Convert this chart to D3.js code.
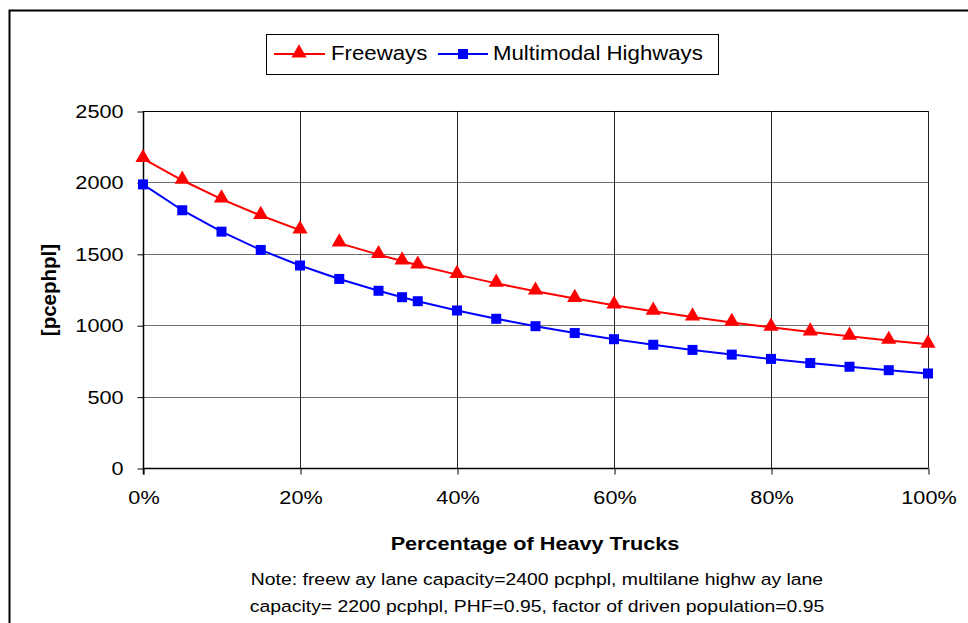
<!DOCTYPE html>
<html>
<head>
<meta charset="utf-8">
<script src="https://cdn.jsdelivr.net/npm/d3@7"></script>
<style>
  html, body { margin: 0; padding: 0; background: #fff; }
  svg { display: block; font-family: "Liberation Sans", Arial, sans-serif; }
</style>
</head>
<body>
<svg id="chart" width="968" height="623"></svg>
<script>
// ---- data ----
const truckPct = [0, 5, 10, 15, 20, 25, 30, 33, 35, 40, 45, 50, 55, 60, 65, 70, 75, 80, 85, 90, 95, 100];
const freeways = [2166, 2015, 1883, 1768, 1666, 1575, 1494, 1449, 1420, 1354, 1293, 1238, 1187, 1140, 1097, 1057, 1019, 985, 952, 922, 893, 866];
const multimodal = [1986, 1805, 1655, 1527, 1418, 1324, 1241, 1196, 1168, 1103, 1045, 993, 945, 902, 863, 827, 794, 764, 735, 709, 685, 662];
const freewayBreakAfter = 20; // line segment missing between 20% and 25%
const xTicks = [0, 20, 40, 60, 80, 100];
const yTicks = [0, 500, 1000, 1500, 2000, 2500];
const seriesNames = ["Freeways", "Multimodal Highways"];
const xTitle = "Percentage of Heavy Trucks";
const yTitle = "[pcephpl]";
const noteLines = [
  "Note: freew ay lane capacity=2400 pcphpl, multilane highw ay lane",
  "capacity= 2200 pcphpl, PHF=0.95, factor of driven population=0.95"
];

(function () {
const SX = 1.14; // horizontal stretch of glyphs as in the reference
const svg = d3.select("#chart");
const pL = 143, pR = 928, pT = 111, pB = 468;
const x = d3.scaleLinear().domain([0, 100]).range([pL, pR]);
const y = d3.scaleLinear().domain([0, 2500]).range([pB, pT]);

function stext(px, py, str, size, anchor, bold) {
  return svg.append("text")
    .attr("transform", `translate(${px},${py}) scale(${SX},1)`)
    .attr("text-anchor", anchor || "start")
    .attr("font-size", size)
    .attr("font-weight", bold ? "bold" : "normal")
    .attr("fill", "#000")
    .text(str);
}

// outer frame
svg.append("path").attr("d", "M9.5,640 L9.5,10.5 L980,10.5")
  .attr("fill", "none").attr("stroke", "#000").attr("stroke-width", 2);

// horizontal gridlines
svg.append("g").selectAll("line").data(yTicks.filter(d => d > 0)).join("line")
  .attr("x1", pL).attr("x2", pR)
  .attr("y1", d => Math.round(y(d)) + 0.5).attr("y2", d => Math.round(y(d)) + 0.5)
  .attr("stroke", d => d === 2500 ? "#000" : "#6e6e6e").attr("stroke-width", 1);
// vertical gridlines
svg.append("g").selectAll("line").data(xTicks.filter(d => d > 0)).join("line")
  .attr("y1", pT).attr("y2", pB)
  .attr("x1", d => Math.round(x(d)) + 0.5).attr("x2", d => Math.round(x(d)) + 0.5)
  .attr("stroke", "#222").attr("stroke-width", 1);

// axes
const yAxis = d3.axisLeft(y).tickValues(yTicks).tickSize(6).tickPadding(14).tickFormat(d3.format("d"));
const gy = svg.append("g").attr("transform", `translate(${pL + 0.5},0.5)`).call(yAxis);
gy.select(".domain").attr("stroke", "#000").attr("stroke-width", 1.5).attr("d", `M0,${pT - 0.5}V${pB + 6}`);
gy.selectAll(".tick line").attr("stroke", "#000");
gy.selectAll("text").attr("font-size", 19).attr("fill", "#000")
  .attr("font-family", "Liberation Sans, Arial, sans-serif")
  .attr("x", -20 / SX).attr("transform", `scale(${SX},1)`);

const xAxis = d3.axisBottom(x).tickValues(xTicks).tickSize(6).tickPadding(16).tickFormat(d => d + "%");
const gx = svg.append("g").attr("transform", `translate(0.5,${pB + 0.5})`).call(xAxis);
gx.select(".domain").attr("stroke", "#000").attr("stroke-width", 1.5).attr("d", `M${pL},0H${pR}`);
gx.selectAll(".tick line").attr("stroke", "#000");
gx.selectAll("text").attr("font-size", 19).attr("fill", "#000")
  .attr("font-family", "Liberation Sans, Arial, sans-serif")
  .attr("transform", `scale(${SX},1)`);

// series lines
const line = d3.line().x(d => x(d[0])).y(d => y(d[1]));
const fwData = truckPct.map((p, i) => [p, freeways[i]]);
const mmData = truckPct.map((p, i) => [p, multimodal[i]]);
const fwSeg1 = fwData.filter(d => d[0] <= freewayBreakAfter);
const fwSeg2 = fwData.filter(d => d[0] > freewayBreakAfter);

svg.append("path").datum(mmData).attr("d", line)
  .attr("fill", "none").attr("stroke", "#0000ff").attr("stroke-width", 2);
[fwSeg1, fwSeg2].forEach(seg => {
  svg.append("path").datum(seg).attr("d", line)
    .attr("fill", "none").attr("stroke", "#ff0000").attr("stroke-width", 2);
});

// markers
const tri = d3.symbol().type(d3.symbolTriangle).size(100);
svg.append("g").selectAll("path").data(fwData).join("path")
  .attr("d", tri)
  .attr("transform", d => `translate(${x(d[0])},${y(d[1]) - 1})`)
  .attr("fill", "#ff0000");
svg.append("g").selectAll("rect").data(mmData).join("rect")
  .attr("x", d => x(d[0]) - 5).attr("y", d => y(d[1]) - 5)
  .attr("width", 10).attr("height", 10).attr("fill", "#0000ff");

// axis titles
stext(535, 550, xTitle, 19, "middle", true);
svg.append("text").attr("transform", "translate(56,290) rotate(-90)").attr("text-anchor", "middle")
  .attr("font-size", 20.5).attr("font-weight", "bold").text(yTitle);

// note
noteLines.forEach((t, i) => stext(537, 585 + i * 27, t, 17, "middle", false));

// legend
const lg = svg.append("g");
svg.append("rect").attr("x", 266.5).attr("y", 34.5).attr("width", 452).attr("height", 40)
  .attr("fill", "#fff").attr("stroke", "#000").attr("stroke-width", 1);
svg.append("line").attr("x1", 274).attr("x2", 325).attr("y1", 54).attr("y2", 54)
  .attr("stroke", "#ff0000").attr("stroke-width", 2);
svg.append("path").attr("d", tri).attr("transform", "translate(299,53)").attr("fill", "#ff0000");
stext(331, 60, seriesNames[0], 19.5, "start", false);
svg.append("line").attr("x1", 438).attr("x2", 488).attr("y1", 54).attr("y2", 54)
  .attr("stroke", "#0000ff").attr("stroke-width", 2);
svg.append("rect").attr("x", 458).attr("y", 49).attr("width", 10).attr("height", 10).attr("fill", "#0000ff");
stext(493, 60, seriesNames[1], 19.5, "start", false);
})();
</script>
</body>
</html>
